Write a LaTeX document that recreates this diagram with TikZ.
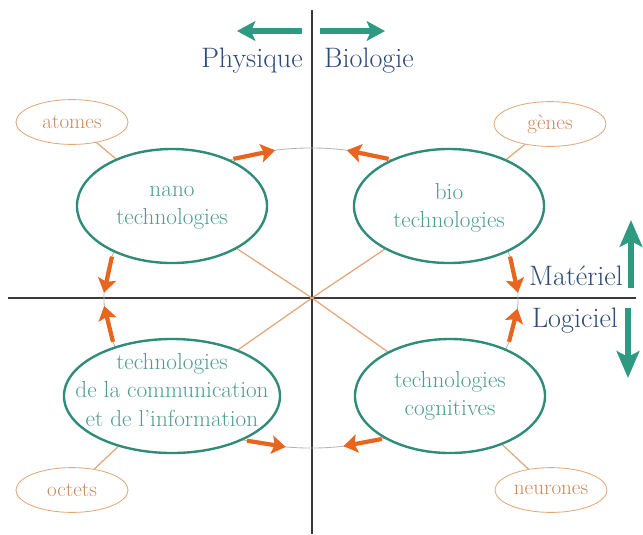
\documentclass[tikz,border=0pt]{standalone}
\usepackage{tikz}
\usetikzlibrary{shapes.geometric,arrows.meta,backgrounds}
\definecolor{ringgray}{HTML}{B4B4B4}
\definecolor{axgray}{HTML}{3A3A3A}
\definecolor{tealline}{HTML}{2E8C78}
\definecolor{tealtext}{HTML}{4E9E8E}
\definecolor{tealarrow}{HTML}{2E9A82}
\definecolor{tanline}{HTML}{E2A87C}
\definecolor{tantext}{HTML}{C98A5E}
\definecolor{orarrow}{HTML}{E8651E}
\definecolor{navytext}{HTML}{2E4A7A}
\begin{document}
\begin{tikzpicture}[x=0.025cm,y=-0.025cm,
  big/.style={ellipse,draw=tealline,line width=1.7pt,fill=white,minimum width=4.75cm,minimum height=2.85cm,inner sep=0pt},
  bigtxt/.style={align=center,text=tealtext,font=\fontsize{16.5}{20}\selectfont},
  small/.style={ellipse,draw=tanline,line width=0.6pt,fill=white,minimum width=2.8cm,minimum height=1.12cm,inner sep=0pt,text=tantext,font=\fontsize{15}{17}\selectfont},
  ax/.style={draw=axgray,line width=0.9pt},
  ring/.style={draw=ringgray,line width=0.6pt},
  link/.style={draw=tanline,line width=0.9pt},
  oarr/.style={draw=orarrow,line width=3pt,-{Stealth[length=10pt,width=13pt,inset=2pt]}},
  tarr/.style={draw=tealarrow,line width=4.5pt,-{Stealth[length=13pt,width=14pt,inset=3pt]}},
  vtarr/.style={tarr,-{Stealth[length=19pt,width=16pt,inset=4pt]}},
  lab/.style={text=navytext,font=\fontsize{20}{22}\selectfont}]
\useasboundingbox (0,0) rectangle (643,534);
\coordinate (O) at (312,298);
\coordinate (R) at (311,298);
% quadrant ellipses
\node[big] (nano) at (172,206) {};
\node[big] (biot) at (449,206) {};
\node[big,minimum width=5.4cm] (tic) at (172,396) {};
\node[big] (cogn) at (450,396) {};
\node[small] (atomes) at (72,122) {atomes};
\node[small] (genes) at (550,124) {gènes};
\node[small] (octets) at (72,490) {octets};
\node[small] (neurones) at (551,490) {neurones};
\node[bigtxt] (nanotxt) at (172,208) {nano\\technologies};
\node[bigtxt] (biotxt) at (449,208) {bio\\technologies};
\node[bigtxt] (tictxt) at (172,390) {technologies\\de la communication\\et de l’information};
\node[bigtxt] (cogtxt) at (450,396) {technologies\\cognitives};
% axes, ring and links behind
\begin{scope}[on background layer]
\draw[ax] (312,10) -- (312,534);
\draw[ax] (8,298) -- (636,298);
\draw[ring] (R) ellipse [x radius=5.175cm, y radius=3.75cm];
\draw[link] (atomes) -- (nano) (nano) -- (O);
\draw[link] (genes) -- (biot) (biot) -- (O);
\draw[link] (octets) -- (tic) (tic) -- (O);
\draw[link] (neurones) -- (cogn) (cogn) -- (O);
\end{scope}
% arrows on the ring
\foreach \t/\h [count=\i] in {112/100,68/80,16/2,-17/-4,-70/-81,-108/-97,164/178,197/183}{
  \coordinate (t\i) at ([shift={(R)}]\t:5.175cm and 3.75cm);
  \coordinate (h\i) at ([shift={(R)}]\h:5.175cm and 3.75cm);
  \draw[oarr] (t\i) -- (h\i);}
% labels and teal arrows
\node[lab] (phys) at (252,61) {Physique};
\node[lab] (biol) at (369,61) {Biologie};
\node[lab] (mat) at (576,276) {Matériel};
\node[lab] (logi) at (575,321) {Logiciel};
\coordinate (pa) at (302,31); \coordinate (pb) at (237,31);
\coordinate (ba) at (320,31); \coordinate (bb) at (385,31);
\coordinate (ma) at (631,288); \coordinate (mb) at (631,220);
\coordinate (la) at (628,308); \coordinate (lb) at (628,378);
\draw[tarr] (pa) -- (pb);
\draw[tarr] (ba) -- (bb);
\draw[vtarr] (ma) -- (mb);
\draw[vtarr] (la) -- (lb);
\end{tikzpicture}
\end{document}
